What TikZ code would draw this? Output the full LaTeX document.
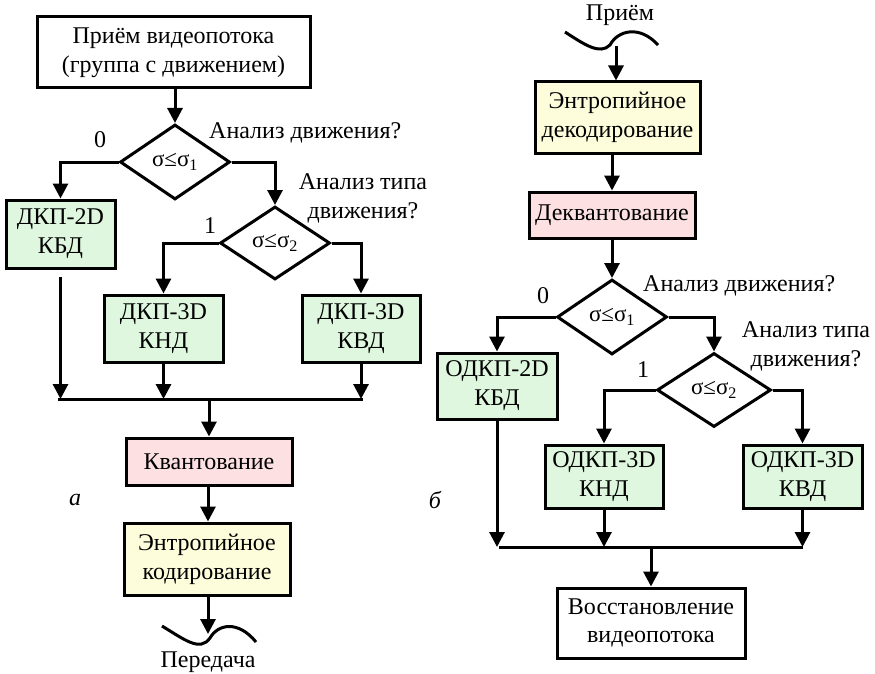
\documentclass[tikz,border=0pt]{standalone}
\usepackage{fontspec}
\setmainfont{Liberation Serif}
\usetikzlibrary{arrows.meta,shapes.geometric}
\definecolor{boxgreen}{RGB}{222,247,222}
\definecolor{boxpink}{RGB}{252,224,226}
\definecolor{boxyellow}{RGB}{253,253,220}
\begin{document}
\begin{tikzpicture}[x=1pt,y=-1pt,
  blk/.style={draw, line width=3pt, inner sep=0pt, align=center, font=\fontsize{24}{28.8}\selectfont},
  gbox/.style={blk, fill=boxgreen},
  pbox/.style={blk, fill=boxpink},
  ybox/.style={blk, fill=boxyellow},
  dia/.style={draw, diamond, line width=3pt, inner sep=0pt, font=\fontsize{23}{26}\selectfont},
  arr/.style={line width=3pt, -{Triangle[width=15pt,length=15pt]}},
  ln/.style={line width=3pt},
  lbl/.style={font=\fontsize{24}{28.8}\selectfont, inner sep=0pt, align=center}]
\useasboundingbox (0,0) rectangle (875,674);
% ---------- left (a) ----------
\node[blk, minimum width=273pt, minimum height=71pt] (top) at (173.5,52.5) {Приём видеопотока\\(группа с движением)};
\node[dia, minimum width=110pt, minimum height=75pt] (d1) at (175,162) {σ≤σ\textsubscript{1}};
\node[gbox, minimum width=109pt, minimum height=68pt] (b2d) at (60.5,234) {ДКП-2D\\КБД};
\node[dia, minimum width=110pt, minimum height=73pt] (d2) at (275,243) {σ≤σ\textsubscript{2}};
\node[gbox, minimum width=119pt, minimum height=67pt] (knd) at (163.5,328.5) {ДКП-3D\\КНД};
\node[gbox, minimum width=118pt, minimum height=67pt] (kvd) at (361,328.5) {ДКП-3D\\КВД};
\node[pbox, minimum width=166pt, minimum height=47pt] (kv) at (209,461.5) {Квантование};
\node[ybox, minimum width=166pt, minimum height=72pt] (ent) at (207,559) {Энтропийное\\кодирование};
\node[lbl, anchor=west] (l1) at (209,133) {Анализ движения?};
\node[lbl] (l0) at (100,140) {0};
\node[lbl] (l2) at (363,198) {Анализ типа\\движения?};
\node[lbl] (l3) at (210,226) {1};
\node[lbl] (tx) at (208,662) {Передача};
\node[lbl, font=\fontsize{24}{28.8}\selectfont\itshape] (la) at (75,500) {а};
\coordinate (busL) at (58,399);
\coordinate (busR) at (363,399);
\coordinate (wtip) at (208,634);
\coordinate (kvx) at (208,0);
\draw[arr] (top.south -| d1.north) -- (d1.north);
\draw[arr] (d1.west) -| (b2d.north);
\draw[arr] (d1.east) -| (d2.north);
\draw[arr] (d2.west) -| (knd.north);
\draw[arr] (d2.east) -| (kvd.north);
\draw[arr] ([yshift=-7pt]b2d.south) -- (b2d.south |- busL);
\draw[arr] (knd.south) -- (knd.south |- busL);
\draw[arr] (kvd.south) -- (kvd.south |- busL);
\draw[ln] (busL) -- (busR);
\draw[arr] (kv.north |- busL) -- (kv.north);
\draw[arr] (kvx |- kv.south) -- (kvx |- ent.north);
\draw[arr] (kvx |- ent.south) -- (wtip);
\draw[ln] (162,626) .. controls (185,640) and (200,652) .. (210,638) .. controls (218,624) and (238,620) .. (256,642);
% ---------- right (b) ----------
\node[lbl] (rx) at (620,15) {Приём};
\coordinate (rw) at (616,46);
\draw[ln] (565,32) .. controls (585,45) and (600,55) .. (610,45) .. controls (618,30) and (640,25) .. (658,45);
\node[ybox, minimum width=165pt, minimum height=71pt] (rent) at (617.5,117.5) {Энтропийное\\декодирование};
\node[pbox, minimum width=166pt, minimum height=46pt] (rdq) at (612,215) {Деквантование};
\node[dia, minimum width=110pt, minimum height=75pt] (rd1) at (612,317) {σ≤σ\textsubscript{1}};
\node[gbox, minimum width=120pt, minimum height=66pt] (r2d) at (497,386) {ОДКП-2D\\КБД};
\node[dia, minimum width=114pt, minimum height=74pt] (rd2) at (714,390) {σ≤σ\textsubscript{2}};
\node[gbox, minimum width=118pt, minimum height=63pt] (rknd) at (604,476.5) {ОДКП-3D\\КНД};
\node[gbox, minimum width=119pt, minimum height=63pt] (rkvd) at (802.5,476.5) {ОДКП-3D\\КВД};
\node[blk, minimum width=188pt, minimum height=70pt] (rest) at (651,623) {Восстановление\\видеопотока};
\node[lbl, anchor=west] (rl1) at (643,286) {Анализ движения?};
\node[lbl] (rl0) at (543,296) {0};
\node[lbl] (rl2) at (806,346) {Анализ типа\\движения?};
\node[lbl] (rl3) at (643,370) {1};
\node[lbl, font=\fontsize{24}{28.8}\selectfont\itshape] (lb) at (435,500) {б};
\coordinate (rbusL) at (499,547);
\coordinate (rbusR) at (803,547);
\draw[arr] (rw) -- (rw |- rent.north);
\draw[arr] (rent.south -| rdq.north) -- (rdq.north);
\draw[arr] (rdq.south) -- (rd1.north);
\draw[arr] (rd1.west) -| (r2d.north);
\draw[arr] (rd1.east) -| (rd2.north);
\draw[arr] (rd2.west) -| (rknd.north);
\draw[arr] (rd2.east) -| (rkvd.north);
\draw[arr] ([yshift=3pt]r2d.south) -- (r2d.south |- rbusL);
\draw[arr] (rknd.south) -- (rknd.south |- rbusL);
\draw[arr] (rkvd.south) -- (rkvd.south |- rbusL);
\draw[ln] (rbusL) -- (rbusR);
\draw[arr] (rest.north |- rbusL) -- (rest.north);
\end{tikzpicture}
\end{document}
